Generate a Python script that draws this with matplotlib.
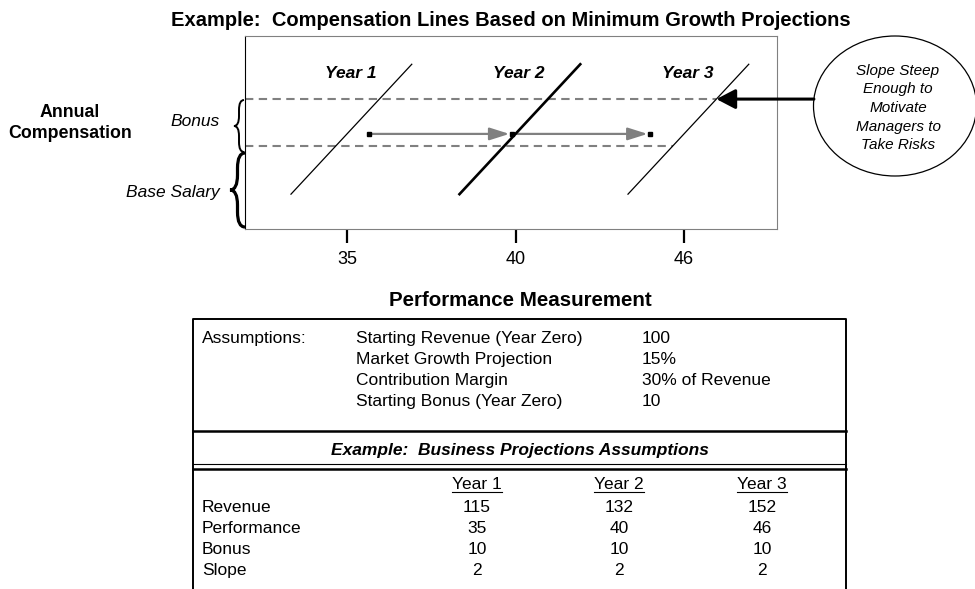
"""
Compensation lines diagram with the performance measurement table below it.
"""
import numpy as np
import matplotlib
matplotlib.use("Agg")
import matplotlib.pyplot as plt
from matplotlib.patches import Ellipse, PathPatch
from matplotlib.path import Path

plt.rcParams['font.family'] = ['Liberation Sans', 'DejaVu Sans']
plt.rcParams['font.size'] = 12.5

# table values
years = ["Year 1", "Year 2", "Year 3"]
revenue = [115, 132, 152]
performance = [35, 40, 46]
bonus = [10, 10, 10]
slope = [2, 2, 2]
row_labels = ["Revenue", "Performance", "Bonus", "Slope"]

assumption_names = ["Starting Revenue (Year Zero)", "Market Growth Projection",
                    "Contribution Margin", "Starting Bonus (Year Zero)"]
assumption_values = ["100", "15%", "30% of Revenue", "10"]

# chart geometry (x in year slots, y in compensation units)
base_salary = 17.6
arrow_level = 20.2
line_low, line_high = 7.4, 35.0
line_steepness = 38.5
arrow_marks = [0.13, 0.98, 1.80]

GRAY = '#808080'
W, H = 975, 589
fig = plt.figure(figsize=(W / 100, H / 100), dpi=100)


def px_box(l, t, r, b):
    return [l / W, 1 - b / H, (r - l) / W, (b - t) / H]


ax = fig.add_axes(px_box(245, 36, 777, 229))
ov = fig.add_axes([0, 0, 1, 1])
ov.set_xlim(0, W)
ov.set_ylim(H, 0)
ov.axis('off')
ov.patch.set_visible(False)

ax.set_xlim((245 - 347) / 168.5, (777 - 347) / 168.5)
ax.set_ylim(0, 41)
ax.set_yticks([])
ax.set_xticks(range(len(years)))
ax.set_xticklabels([str(p) for p in performance])
ax.tick_params(axis='x', length=10, width=1.6, pad=6, color='black', labelsize=13)
for side in ['top', 'right', 'bottom']:
    ax.spines[side].set_color(GRAY)
ax.spines['left'].set_color('black')


def year_x(i, y):
    return i + (y - arrow_level) / line_steepness


# bonus band
upper = base_salary + bonus[-1]
x0 = ax.get_xlim()[0]
for level in [upper, base_salary]:
    ax.plot([x0, year_x(2, level)], [level, level], color=GRAY, lw=1.5,
            ls=(0, (4, 2.6)), zorder=1)

# compensation lines
for i, yr in enumerate(years):
    ys = np.array([line_low, line_high])
    ax.plot(year_x(i, ys), ys, color='black', lw=1.9 if i == 1 else 0.9, zorder=3)
    ax.text(i + 0.02, 33.1, yr, ha='center', va='center', fontweight='bold',
            style='italic', fontsize=12.5)

# gray arrows between the markers
for a, b in zip(arrow_marks[:-1], arrow_marks[1:]):
    ax.annotate('', xy=(b, arrow_level), xytext=(a, arrow_level),
                arrowprops=dict(arrowstyle='-|>,head_length=1.2,head_width=0.38',
                                mutation_scale=10, color=GRAY, lw=1.6,
                                shrinkA=0, shrinkB=2), zorder=2)
ax.plot(arrow_marks, [arrow_level] * len(arrow_marks), 's', color='black',
        ms=3.5, zorder=5)

# ellipse note and black arrow
cx, cy, ew, eh = 895, 106, 163, 140
ov.add_patch(Ellipse((cx, cy), ew, eh, fill=False, ec='black', lw=0.9))
ov.text(898, 108, "Slope Steep\nEnough to\nMotivate\nManagers to\nTake Risks",
        ha='center', va='center', style='italic', fontsize=11, linespacing=1.42)
target = (year_x(2, upper), upper)
ty = ov.transData.inverted().transform(ax.transData.transform(target))[1]
tx = cx - ew / 2 * np.sqrt(1 - ((ty - cy) / (eh / 2)) ** 2)
ov.annotate('', xy=target, xycoords=ax.transData, xytext=(tx, ty),
            textcoords='data',
            arrowprops=dict(arrowstyle='-|>,head_length=1.15,head_width=0.6',
                            mutation_scale=10, color='black', lw=2.2,
                            shrinkA=0, shrinkB=0))


def brace(x, y0, y1, w, lw=1.8):
    ym = (y0 + y1) / 2
    r = min(w, (y1 - y0) / 4)
    xm = x - w / 2
    verts = [(x, y0), (xm, y0), (xm, y0 + r),
             (xm, ym - r), (xm, ym), (x - w, ym),
             (xm, ym), (xm, ym + r),
             (xm, y1 - r), (xm, y1), (x, y1)]
    codes = [Path.MOVETO, Path.CURVE3, Path.CURVE3,
             Path.LINETO, Path.CURVE3, Path.CURVE3,
             Path.CURVE3, Path.CURVE3,
             Path.LINETO, Path.CURVE3, Path.CURVE3]
    ov.add_patch(PathPatch(Path(verts, codes), fill=False, ec='black', lw=lw))


brace(244, 100, 152, 10, lw=1.4)
brace(245, 153, 227, 15, lw=2.3)
ov.text(70, 123, "Annual\nCompensation", ha='center', va='center',
        fontweight='bold', fontsize=12.8, linespacing=1.3)
ov.text(220, 122, "Bonus", ha='right', va='center', style='italic')
ov.text(220, 193, "Base Salary", ha='right', va='center', style='italic')

# titles
ov.text(511, 26, "Example:  Compensation Lines Based on Minimum Growth Projections",
        ha='center', va='baseline', fontweight='bold', fontsize=14.5)
ov.text(520, 306, "Performance Measurement", ha='center', va='baseline',
        fontweight='bold', fontsize=14.8)

# table frame
tl, tr, tt = 193, 846, 319
ov.plot([tl, tl, tr, tr], [H + 5, tt, tt, H + 5], color='black', lw=1.4)
ov.plot([tl, tr], [431, 431], color='black', lw=1.8)
ov.plot([tl, tr], [464, 464], color='black', lw=0.8)
ov.plot([tl, tr], [469, 469], color='black', lw=1.8)

ov.text(202, 343, "Assumptions:", va='baseline')
for k, (name, val) in enumerate(zip(assumption_names, assumption_values)):
    yb = 343 + 21 * k
    ov.text(356, yb, name, va='baseline')
    ov.text(642, yb, val, va='baseline')

ov.text(520, 455, "Example:  Business Projections Assumptions", ha='center',
        va='baseline', fontweight='bold', style='italic')

col_x = [477, 619, 762]
fig.canvas.draw()
renderer = fig.canvas.get_renderer()
inv = ov.transData.inverted()
for cxp, yr in zip(col_x, years):
    t = ov.text(cxp, 489, yr, ha='center', va='baseline')
    bb = t.get_window_extent(renderer)
    (xa, _), (xb, _) = inv.transform([(bb.x0, bb.y0), (bb.x1, bb.y0)])
    ov.plot([xa, xb], [492, 492], color='black', lw=0.8)

rows = [revenue, performance, bonus, slope]
for k, (label, vals) in enumerate(zip(row_labels, rows)):
    yb = 512 + 21 * k
    ov.text(202, yb, label, va='baseline')
    for cxp, v in zip(col_x, vals):
        ov.text(cxp, yb, str(v), ha='center', va='baseline')

fig.savefig("out.png", dpi=100)
